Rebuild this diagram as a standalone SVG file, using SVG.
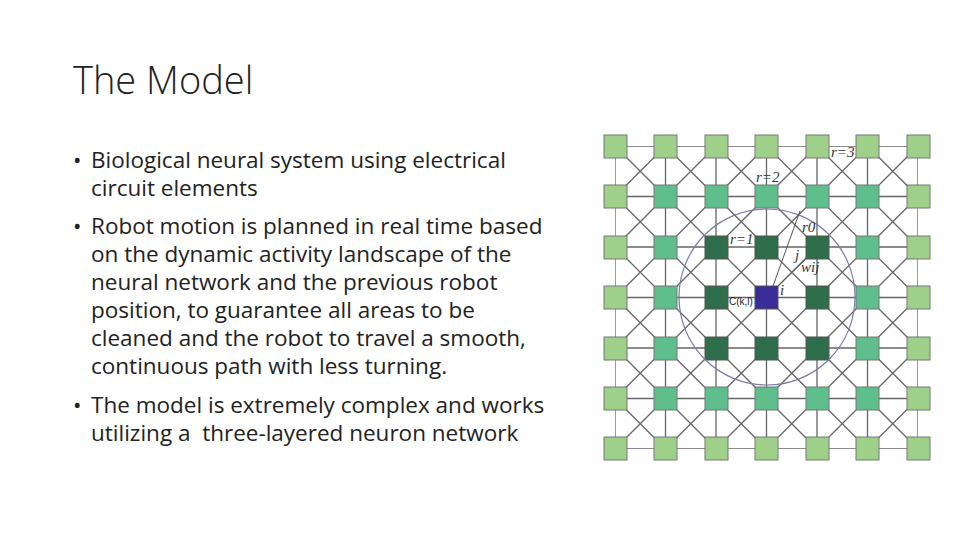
<svg xmlns="http://www.w3.org/2000/svg" width="960" height="540" viewBox="0 0 960 540">
<style>
.t{font-family:"Open Sans","Liberation Sans",sans-serif;fill:#222}
.b{font-size:22.5px}
.g{stroke:#666;stroke-width:1.3;fill:none}
.l3{fill:#9fd08a;stroke:#777;stroke-width:1}
.l2{fill:#5fbf8c;stroke:#777;stroke-width:1}
.l1{fill:#2e6e4b;stroke:#555;stroke-width:1}
.c{fill:#3a2d9a;stroke:#555;stroke-width:1}
.s{font-family:"Liberation Serif",serif;font-style:italic;font-size:15px;fill:#333}
</style>
<rect width="960" height="540" fill="#fff"/>
<text class="t" x="73" y="94" font-size="38" style="font-weight:300">The Model</text>
<g class="t b">
<text x="73" y="168">•</text><text x="91" y="168">Biological neural system using electrical</text>
<text x="91" y="196">circuit elements</text>
<text x="73" y="234">•</text><text x="91" y="234">Robot motion is planned in real time based</text>
<text x="91" y="262">on the dynamic activity landscape of the</text>
<text x="91" y="290">neural network and the previous robot</text>
<text x="91" y="318">position, to guarantee all areas to be</text>
<text x="91" y="346">cleaned and the robot to travel a smooth,</text>
<text x="91" y="374">continuous path with less turning.</text>
<text x="73" y="413">•</text><text x="91" y="413">The model is extremely complex and works</text>
<text x="91" y="441" xml:space="preserve">utilizing a  three-layered neuron network</text>
</g>
<defs><clipPath id="cp"><rect x="615" y="146" width="303" height="303"/></clipPath></defs>
<g id="connectors" clip-path="url(#cp)">
<path class="g" d="M615 146V449M665.5 146V449M716 146V449M766.5 146V449M817 146V449M867.5 146V449M918 146V449M615 146H918M615 196.5H918M615 247H918M615 297.5H918M615 348H918M615 398.5H918M615 449H918"/>
<path class="g" d="M615 146L918 449M665.5 146L918 398.5M716 146L918 348M766.5 146L918 297.5M817 146L918 247M867.5 146L918 196.5M615 196.5L867.5 449M615 247L817 449M615 297.5L766.5 449M615 348L716 449M615 398.5L665.5 449M918 146L615 449M867.5 146L615 398.5M817 146L615 348M766.5 146L615 297.5M716 146L615 247M665.5 146L615 196.5M918 196.5L665.5 449M918 247L716 449M918 297.5L766.5 449M918 348L817 449M918 398.5L867.5 449"/>
</g>
<g id="grid">
<g class="l3">
<rect x="604" y="135" width="23" height="23"/><rect x="654" y="135" width="23" height="23"/><rect x="705" y="135" width="23" height="23"/><rect x="755" y="135" width="23" height="23"/><rect x="806" y="135" width="23" height="23"/><rect x="856" y="135" width="23" height="23"/><rect x="907" y="135" width="23" height="23"/>
<rect x="604" y="437" width="23" height="23"/><rect x="654" y="437" width="23" height="23"/><rect x="705" y="437" width="23" height="23"/><rect x="755" y="437" width="23" height="23"/><rect x="806" y="437" width="23" height="23"/><rect x="856" y="437" width="23" height="23"/><rect x="907" y="437" width="23" height="23"/>
<rect x="604" y="185" width="23" height="23"/><rect x="604" y="236" width="23" height="23"/><rect x="604" y="286" width="23" height="23"/><rect x="604" y="337" width="23" height="23"/><rect x="604" y="387" width="23" height="23"/>
<rect x="907" y="185" width="23" height="23"/><rect x="907" y="236" width="23" height="23"/><rect x="907" y="286" width="23" height="23"/><rect x="907" y="337" width="23" height="23"/><rect x="907" y="387" width="23" height="23"/>
</g>
<g class="l2">
<rect x="654" y="185" width="23" height="23"/><rect x="705" y="185" width="23" height="23"/><rect x="755" y="185" width="23" height="23"/><rect x="806" y="185" width="23" height="23"/><rect x="856" y="185" width="23" height="23"/>
<rect x="654" y="387" width="23" height="23"/><rect x="705" y="387" width="23" height="23"/><rect x="755" y="387" width="23" height="23"/><rect x="806" y="387" width="23" height="23"/><rect x="856" y="387" width="23" height="23"/>
<rect x="654" y="236" width="23" height="23"/><rect x="654" y="286" width="23" height="23"/><rect x="654" y="337" width="23" height="23"/>
<rect x="856" y="236" width="23" height="23"/><rect x="856" y="286" width="23" height="23"/><rect x="856" y="337" width="23" height="23"/>
</g>
<g class="l1">
<rect x="705" y="236" width="23" height="23"/><rect x="755" y="236" width="23" height="23"/><rect x="806" y="236" width="23" height="23"/>
<rect x="705" y="286" width="23" height="23"/><rect x="806" y="286" width="23" height="23"/>
<rect x="705" y="337" width="23" height="23"/><rect x="755" y="337" width="23" height="23"/><rect x="806" y="337" width="23" height="23"/>
</g>
<rect class="c" x="755" y="286" width="23" height="23"/>
</g>
<g id="annot">
<circle cx="767" cy="297" r="88" fill="none" stroke="#7a7aa8" stroke-width="1.2"/>
<path d="M773 286L800 211M778 286L808 257" stroke="#555" stroke-width="1" fill="none"/>
<text class="s" x="831" y="157">r=3</text>
<text class="s" x="756" y="182">r=2</text>
<text class="s" x="730" y="244">r=1</text>
<text class="s" x="802" y="232">r0</text>
<text class="s" x="795" y="260" font-size="18">j</text>
<text class="s" x="801" y="272" font-size="12">wij</text>
<text class="s" x="780" y="295" font-size="12">i</text>
<text x="729" y="305" font-family="Liberation Sans,sans-serif" font-size="10" fill="#222">C(k,l)</text>
</g>
</svg>
